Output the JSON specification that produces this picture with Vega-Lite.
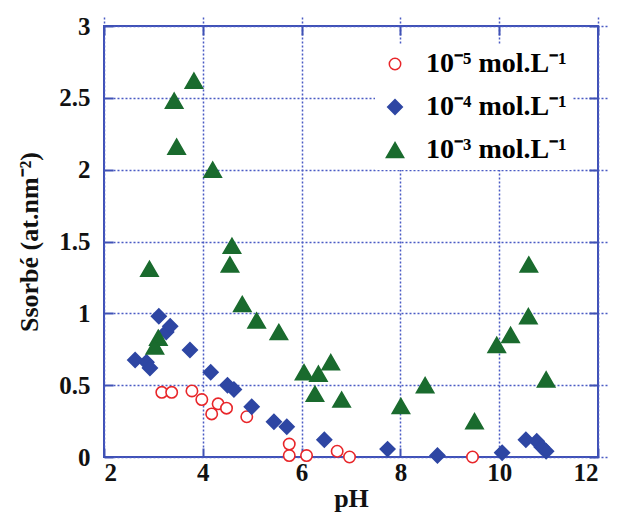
{
  "$schema": "https://vega.github.io/schema/vega-lite/v6.json",
  "width": 494,
  "height": 431,
  "autosize": "none",
  "padding": {"left": 104, "top": 26, "right": 21, "bottom": 55},
  "config": {
    "view": {"stroke": "#3f51b5", "strokeWidth": 2},
    "font": "Liberation Serif",
    "axis": {
      "labelFont": "Liberation Serif", "labelFontSize": 25, "labelFontWeight": "bold", "labelColor": "#111",
      "titleFont": "Liberation Serif", "titleFontSize": 26, "titleFontWeight": "bold", "titleColor": "#111",
      "domain": false, "tickColor": "#3f51b5", "tickWidth": 2, "tickSize": 9, "offset": -9,
      "gridColor": "#4a5bc4", "gridDash": [2, 2], "gridWidth": 1.5, "gridOpacity": 1
    }
  },
  "data": {"values": [
    {"c": "10⁻⁵ mol.L⁻¹", "pH": 3.17, "S": 0.45},
    {"c": "10⁻⁵ mol.L⁻¹", "pH": 3.37, "S": 0.45},
    {"c": "10⁻⁵ mol.L⁻¹", "pH": 3.78, "S": 0.46},
    {"c": "10⁻⁵ mol.L⁻¹", "pH": 3.98, "S": 0.40},
    {"c": "10⁻⁵ mol.L⁻¹", "pH": 4.18, "S": 0.30},
    {"c": "10⁻⁵ mol.L⁻¹", "pH": 4.31, "S": 0.37},
    {"c": "10⁻⁵ mol.L⁻¹", "pH": 4.48, "S": 0.34},
    {"c": "10⁻⁵ mol.L⁻¹", "pH": 4.89, "S": 0.28},
    {"c": "10⁻⁵ mol.L⁻¹", "pH": 5.75, "S": 0.09},
    {"c": "10⁻⁵ mol.L⁻¹", "pH": 5.75, "S": 0.01},
    {"c": "10⁻⁵ mol.L⁻¹", "pH": 6.10, "S": 0.01},
    {"c": "10⁻⁵ mol.L⁻¹", "pH": 6.72, "S": 0.04},
    {"c": "10⁻⁵ mol.L⁻¹", "pH": 6.97, "S": 0.0},
    {"c": "10⁻⁵ mol.L⁻¹", "pH": 9.46, "S": 0.0},
    {"c": "10⁻⁴ mol.L⁻¹", "pH": 2.63, "S": 0.675},
    {"c": "10⁻⁴ mol.L⁻¹", "pH": 2.86, "S": 0.66},
    {"c": "10⁻⁴ mol.L⁻¹", "pH": 2.93, "S": 0.62},
    {"c": "10⁻⁴ mol.L⁻¹", "pH": 3.11, "S": 0.98},
    {"c": "10⁻⁴ mol.L⁻¹", "pH": 3.26, "S": 0.87},
    {"c": "10⁻⁴ mol.L⁻¹", "pH": 3.34, "S": 0.91},
    {"c": "10⁻⁴ mol.L⁻¹", "pH": 3.74, "S": 0.745},
    {"c": "10⁻⁴ mol.L⁻¹", "pH": 4.16, "S": 0.59},
    {"c": "10⁻⁴ mol.L⁻¹", "pH": 4.50, "S": 0.50},
    {"c": "10⁻⁴ mol.L⁻¹", "pH": 4.63, "S": 0.47},
    {"c": "10⁻⁴ mol.L⁻¹", "pH": 4.99, "S": 0.35},
    {"c": "10⁻⁴ mol.L⁻¹", "pH": 5.44, "S": 0.245},
    {"c": "10⁻⁴ mol.L⁻¹", "pH": 5.70, "S": 0.21},
    {"c": "10⁻⁴ mol.L⁻¹", "pH": 6.46, "S": 0.12},
    {"c": "10⁻⁴ mol.L⁻¹", "pH": 7.74, "S": 0.055},
    {"c": "10⁻⁴ mol.L⁻¹", "pH": 8.75, "S": 0.01},
    {"c": "10⁻⁴ mol.L⁻¹", "pH": 10.06, "S": 0.03},
    {"c": "10⁻⁴ mol.L⁻¹", "pH": 10.54, "S": 0.12},
    {"c": "10⁻⁴ mol.L⁻¹", "pH": 10.76, "S": 0.11},
    {"c": "10⁻⁴ mol.L⁻¹", "pH": 10.86, "S": 0.07},
    {"c": "10⁻⁴ mol.L⁻¹", "pH": 10.95, "S": 0.04},
    {"c": "10⁻³ mol.L⁻¹", "pH": 3.82, "S": 2.62},
    {"c": "10⁻³ mol.L⁻¹", "pH": 3.42, "S": 2.48},
    {"c": "10⁻³ mol.L⁻¹", "pH": 3.47, "S": 2.16},
    {"c": "10⁻³ mol.L⁻¹", "pH": 4.20, "S": 2.0},
    {"c": "10⁻³ mol.L⁻¹", "pH": 4.59, "S": 1.47},
    {"c": "10⁻³ mol.L⁻¹", "pH": 4.55, "S": 1.34},
    {"c": "10⁻³ mol.L⁻¹", "pH": 2.92, "S": 1.31},
    {"c": "10⁻³ mol.L⁻¹", "pH": 4.80, "S": 1.065},
    {"c": "10⁻³ mol.L⁻¹", "pH": 5.09, "S": 0.95},
    {"c": "10⁻³ mol.L⁻¹", "pH": 5.54, "S": 0.87},
    {"c": "10⁻³ mol.L⁻¹", "pH": 3.10, "S": 0.83},
    {"c": "10⁻³ mol.L⁻¹", "pH": 3.03, "S": 0.77},
    {"c": "10⁻³ mol.L⁻¹", "pH": 6.05, "S": 0.59},
    {"c": "10⁻³ mol.L⁻¹", "pH": 6.34, "S": 0.58},
    {"c": "10⁻³ mol.L⁻¹", "pH": 6.59, "S": 0.66},
    {"c": "10⁻³ mol.L⁻¹", "pH": 6.27, "S": 0.44},
    {"c": "10⁻³ mol.L⁻¹", "pH": 6.81, "S": 0.40},
    {"c": "10⁻³ mol.L⁻¹", "pH": 8.01, "S": 0.355},
    {"c": "10⁻³ mol.L⁻¹", "pH": 8.50, "S": 0.50},
    {"c": "10⁻³ mol.L⁻¹", "pH": 9.50, "S": 0.25},
    {"c": "10⁻³ mol.L⁻¹", "pH": 9.95, "S": 0.78},
    {"c": "10⁻³ mol.L⁻¹", "pH": 10.23, "S": 0.85},
    {"c": "10⁻³ mol.L⁻¹", "pH": 10.60, "S": 1.34},
    {"c": "10⁻³ mol.L⁻¹", "pH": 10.59, "S": 0.98},
    {"c": "10⁻³ mol.L⁻¹", "pH": 10.95, "S": 0.54}
  ]},
  "layer": [
    {
      "mark": {"type": "point", "opacity": 0},
      "encoding": {
        "x": {"field": "pH", "type": "quantitative", "scale": {"domain": [2, 12], "nice": false, "zero": false},
              "axis": {"orient": "top", "labels": false, "title": null, "grid": false, "values": [2, 4, 6, 8, 10, 12]}},
        "y": {"field": "S", "type": "quantitative", "scale": {"domain": [0, 3], "nice": false},
              "axis": {"orient": "right", "labels": false, "title": null, "grid": false, "values": [0, 0.5, 1, 1.5, 2, 2.5, 3]}}
      }
    },
    {
      "mark": {"type": "point", "filled": false, "strokeWidth": 1.6, "opacity": 1},
      "encoding": {
        "x": {"field": "pH", "type": "quantitative", "scale": {"domain": [2, 12], "nice": false, "zero": false},
              "axis": {"orient": "bottom", "title": "pH", "values": [2, 4, 6, 8, 10, 12], "labelPadding": 3, "titlePadding": 0, "grid": true}},
        "y": {"field": "S", "type": "quantitative", "scale": {"domain": [0, 3], "nice": false},
              "axis": {"orient": "left", "title": "Ssorbé (at.nm⁻²)", "values": [0, 0.5, 1, 1.5, 2, 2.5, 3], "format": "~g", "labelPadding": 14, "titlePadding": 16, "grid": true}},
        "shape": {"field": "c", "type": "nominal",
                  "scale": {"domain": ["10⁻⁵ mol.L⁻¹", "10⁻⁴ mol.L⁻¹", "10⁻³ mol.L⁻¹"], "range": ["circle", "diamond", "triangle-up"]},
                  "legend": {"title": null, "orient": "none", "legendX": 271, "legendY": 18, "fillColor": "white", "padding": 6,
                             "labelFont": "Liberation Serif", "labelFontSize": 28, "labelFontWeight": "bold", "labelLimit": 300, "rowPadding": 15, "labelOffset": 17,
                             "encode": {"labels": {"update": {"fill": {"signal": "datum.value == '10⁻⁵ mol.L⁻¹' ? '#e8262a' : datum.value == '10⁻⁴ mol.L⁻¹' ? '#2e46a3' : '#1a6b2e'"}}}}}},
        "fill": {"field": "c", "type": "nominal",
                 "scale": {"domain": ["10⁻⁵ mol.L⁻¹", "10⁻⁴ mol.L⁻¹", "10⁻³ mol.L⁻¹"], "range": ["white", "#2e46a3", "#1a6b2e"]},
                 "legend": {"title": null, "orient": "none", "legendX": 271, "legendY": 18, "fillColor": "white", "padding": 6,
                             "labelFont": "Liberation Serif", "labelFontSize": 28, "labelFontWeight": "bold", "labelLimit": 300, "rowPadding": 15, "labelOffset": 17,
                             "encode": {"labels": {"update": {"fill": {"signal": "datum.value == '10⁻⁵ mol.L⁻¹' ? '#e8262a' : datum.value == '10⁻⁴ mol.L⁻¹' ? '#2e46a3' : '#1a6b2e'"}}}}}},
        "stroke": {"field": "c", "type": "nominal",
                   "scale": {"domain": ["10⁻⁵ mol.L⁻¹", "10⁻⁴ mol.L⁻¹", "10⁻³ mol.L⁻¹"], "range": ["#e8262a", "#2e46a3", "#1a6b2e"]},
                   "legend": {"title": null, "orient": "none", "legendX": 271, "legendY": 18, "fillColor": "white", "padding": 6,
                             "labelFont": "Liberation Serif", "labelFontSize": 28, "labelFontWeight": "bold", "labelLimit": 300, "rowPadding": 15, "labelOffset": 17,
                             "encode": {"labels": {"update": {"fill": {"signal": "datum.value == '10⁻⁵ mol.L⁻¹' ? '#e8262a' : datum.value == '10⁻⁴ mol.L⁻¹' ? '#2e46a3' : '#1a6b2e'"}}}}}},
        "size": {"field": "c", "type": "nominal",
                 "scale": {"domain": ["10⁻⁵ mol.L⁻¹", "10⁻⁴ mol.L⁻¹", "10⁻³ mol.L⁻¹"], "range": [130, 300, 260]},
                 "legend": {"title": null, "orient": "none", "legendX": 271, "legendY": 18, "fillColor": "white", "padding": 6,
                             "labelFont": "Liberation Serif", "labelFontSize": 28, "labelFontWeight": "bold", "labelLimit": 300, "rowPadding": 15, "labelOffset": 17,
                             "encode": {"labels": {"update": {"fill": {"signal": "datum.value == '10⁻⁵ mol.L⁻¹' ? '#e8262a' : datum.value == '10⁻⁴ mol.L⁻¹' ? '#2e46a3' : '#1a6b2e'"}}}}}}
      }
    }
  ],
  "resolve": {"axis": {"x": "independent", "y": "independent"}}
}
